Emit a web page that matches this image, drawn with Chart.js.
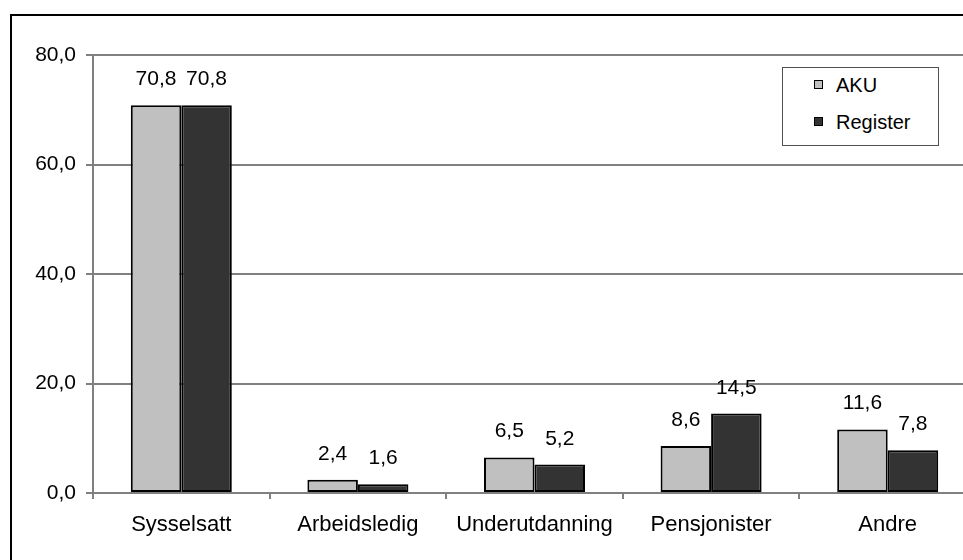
<!DOCTYPE html>
<html>
<head>
<meta charset="utf-8">
<script src="https://cdn.jsdelivr.net/npm/chart.js@4"></script>
<style>
  html, body { margin: 0; padding: 0; background: #fff; overflow: hidden; }
  #wrap { position: relative; width: 963px; height: 560px; overflow: hidden; }
  #frame { position: absolute; left: 10px; top: 14px; width: 1000px; height: 600px; border: 2px solid #000; box-sizing: border-box; }
  canvas { position: absolute; left: 0; top: 0; }
  #legend { position: absolute; left: 782px; top: 67px; width: 157px; height: 79px; border: 1px solid #505050; box-sizing: border-box; background: #fff;
    font-family: 'Liberation Sans', Arial, sans-serif; font-size: 20px; color: #000; }
  .item { position: absolute; left: 31px; height: 24px; line-height: 24px; }
  .item span.box { position: absolute; left: 0; top: 7px; width: 7px; height: 7px; border: 1.5px solid #000; }
  .item span.txt { position: absolute; left: 22px; top: 0; white-space: nowrap; }
</style>
</head>
<body>
<div id="wrap">
  <div id="frame"></div>
  <canvas id="chart" width="1000" height="560"></canvas>
  <div id="legend"></div>
</div>
<script>
// chart data
const categories = ['Sysselsatt', 'Arbeidsledig', 'Underutdanning', 'Pensjonister', 'Andre'];
const akuValues = [70.8, 2.4, 6.5, 8.6, 11.6];
const registerValues = [70.8, 1.6, 5.2, 14.5, 7.8];
const yTicks = [0, 20, 40, 60, 80];

const fontFamily = "'Liberation Sans', Arial, sans-serif";
const fmt = v => v.toFixed(1).replace('.', ',');

// value labels above each bar
const valueLabels = {
  id: 'valueLabels',
  afterDatasetsDraw(chart) {
    const ctx = chart.ctx;
    ctx.save();
    ctx.font = '21px ' + fontFamily;
    ctx.fillStyle = '#000';
    ctx.textAlign = 'center';
    ctx.textBaseline = 'alphabetic';
    chart.data.datasets.forEach((ds, i) => {
      chart.getDatasetMeta(i).data.forEach((bar, j) => {
        ctx.fillText(fmt(ds.data[j]), bar.x, bar.y - 20);
      });
    });
    ctx.restore();
  }
};

const ctx = document.getElementById('chart').getContext('2d');
const chart = new Chart(ctx, {
  type: 'bar',
  data: {
    labels: categories,
    datasets: [
      { label: 'AKU', data: akuValues, backgroundColor: '#c0c0c0', borderColor: '#000', borderWidth: 2, borderSkipped: false },
      { label: 'Register', data: registerValues, backgroundColor: '#333333', borderColor: '#000', borderWidth: 2, borderSkipped: false }
    ]
  },
  options: {
    responsive: false,
    animation: false,
    categoryPercentage: 0.572,
    barPercentage: 1.0,
    layout: { padding: { top: 55, right: 24, left: 0, bottom: 0 } },
    plugins: {
      legend: { display: false },
      tooltip: { enabled: false }
    },
    scales: {
      x: {
        grid: { display: true, drawOnChartArea: false, drawTicks: true, tickLength: 6, color: '#808080', lineWidth: 2, offset: true },
        border: { color: '#808080', width: 2 },
        ticks: { color: '#000', font: { family: fontFamily, size: 22 }, padding: 13, maxRotation: 0 },
        afterFit: s => { s.height = 67; }
      },
      y: {
        min: 0,
        max: 80,
        afterBuildTicks: s => { s.ticks = yTicks.map(v => ({ value: v })); },
        grid: { color: '#808080', lineWidth: 2, tickLength: 7 },
        border: { color: '#808080', width: 2 },
        ticks: { color: '#000', font: { family: fontFamily, size: 21 }, padding: 10, callback: v => fmt(v) },
        afterFit: s => { s.width = 93; }
      }
    }
  },
  plugins: [valueLabels]
});

// legend box
const legendEl = document.getElementById('legend');
chart.data.datasets.forEach((ds, i) => {
  const item = document.createElement('div');
  item.className = 'item';
  item.style.top = (i === 0 ? 5 : 42) + 'px';
  item.innerHTML = '<span class="box" style="background:' + ds.backgroundColor + '"></span><span class="txt"></span>';
  item.querySelector('.txt').textContent = ds.label;
  legendEl.appendChild(item);
});
</script>
</body>
</html>
